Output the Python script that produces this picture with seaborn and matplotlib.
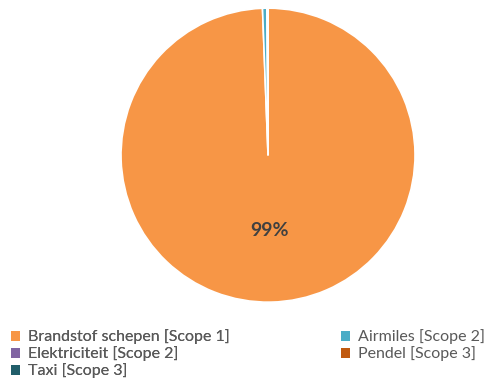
import matplotlib
matplotlib.use("Agg")
import matplotlib.pyplot as plt
from matplotlib.patches import Patch
import seaborn as sns

categories = ["Brandstof schepen [Scope 1]", "Airmiles [Scope 2]", "Elektriciteit [Scope 2]",
              "Pendel [Scope 3]", "Taxi [Scope 3]"]
values = [99.4, 0.5, 0.05, 0.03, 0.02]
colors = ["#F79646", "#4BACC6", "#8064A2", "#C0590F", "#215E6A"]

sns.set_theme(style="white")
plt.rcParams["font.family"] = ["Lato", "DejaVu Sans"]

fig = plt.figure(figsize=(4.87, 3.85), dpi=100)
ax = fig.add_axes([0.2485, 0.2152, 0.6037, 0.7636])

def fmt(p):
    return f"{p:.0f}%" if p > 50 else ""

wedges, texts, autotexts = ax.pie(values, colors=colors, startangle=90, counterclock=False,
                                  autopct=fmt, pctdistance=0.51,
                                  wedgeprops=dict(edgecolor="white", linewidth=1.2),
                                  textprops=dict(color="#404040", fontsize=14, fontweight="bold"))
ax.set_xlim(-1, 1)
ax.set_ylim(-1, 1)
ax.set_aspect("equal")
ax.axis("off")

common = dict(loc="upper left", frameon=False, fontsize=11.5, labelcolor="#595959",
              handlelength=0.6, handleheight=0.6, handletextpad=0.5, labelspacing=0.12,
              borderpad=0, borderaxespad=0)
col1 = [0, 2, 4]
col2 = [1, 3]
leg1 = fig.legend([Patch(facecolor=colors[i], edgecolor="none") for i in col1],
                  [categories[i] for i in col1], bbox_to_anchor=(0.022, 0.144), **common)
fig.add_artist(leg1)
leg2 = fig.legend([Patch(facecolor=colors[i], edgecolor="none") for i in col2],
                  [categories[i] for i in col2], bbox_to_anchor=(0.700, 0.144), **common)

fig.savefig("out.png", dpi=100, facecolor="white")
